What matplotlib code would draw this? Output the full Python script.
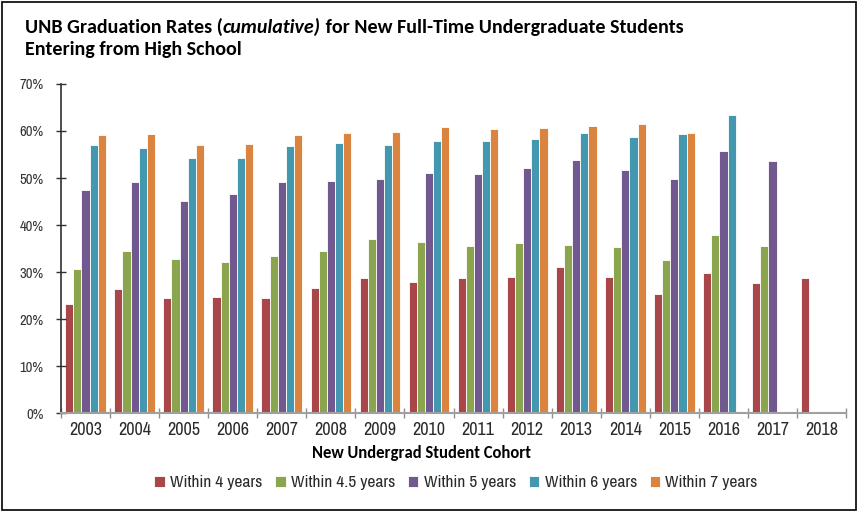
import numpy as np
import matplotlib.pyplot as plt
from matplotlib.patches import Rectangle
from matplotlib.ticker import PercentFormatter, FixedLocator

# -----------------------------
# Data (percent)
# -----------------------------
cohorts = ["2003", "2004", "2005", "2006", "2007", "2008", "2009", "2010",
           "2011", "2012", "2013", "2014", "2015", "2016", "2017", "2018"]

within_4 = [23.3, 26.5, 24.4, 24.7, 24.5, 26.7, 28.7, 27.9,
            28.7, 28.9, 31.0, 28.9, 25.3, 29.8, 27.7, 28.7]
within_45 = [30.6, 34.4, 32.8, 32.1, 33.4, 34.5, 37.0, 36.3,
             35.5, 36.2, 35.8, 35.3, 32.6, 37.9, 35.6, np.nan]
within_5 = [47.4, 49.2, 45.1, 46.6, 49.1, 49.4, 49.8, 51.1,
            50.8, 52.2, 53.8, 51.7, 49.9, 55.7, 53.6, np.nan]
within_6 = [57.0, 56.3, 54.3, 54.3, 56.8, 57.5, 57.1, 57.9,
            57.9, 58.2, 59.5, 58.7, 59.3, 63.5, np.nan, np.nan]
within_7 = [59.1, 59.4, 57.0, 57.2, 59.1, 59.6, 59.8, 60.8,
            60.4, 60.6, 61.1, 61.4, 59.6, np.nan, np.nan, np.nan]

series = [
    ("Within 4 years", within_4, "#A9464A"),
    ("Within 4.5 years", within_45, "#8BA54F"),
    ("Within 5 years", within_5, "#71598F"),
    ("Within 6 years", within_6, "#4398B0"),
    ("Within 7 years", within_7, "#DA843F"),
]

NARROW = ["Archivo Narrow", "DejaVu Sans"]
CAL = ["Carlito", "DejaVu Sans"]

# -----------------------------
# Plot
# -----------------------------
fig = plt.figure(figsize=(8.59, 5.12), dpi=100)
ax = fig.add_axes([0.071, 0.193, 0.914, 0.643])

x = np.arange(len(cohorts))
w = 0.166
for i, (name, vals, col) in enumerate(series):
    ax.bar(x + (i - 2) * w, vals, width=w, color=col, edgecolor="white",
           linewidth=0.6, label=name)

ax.set_xlim(-0.5, len(cohorts) - 0.5)
ax.set_ylim(0, 70)
ax.yaxis.set_major_locator(FixedLocator(np.arange(0, 71, 10)))
ax.yaxis.set_major_formatter(PercentFormatter(decimals=0))

ax.set_xticks(x)
ax.set_xticklabels(cohorts)
ax.set_xticks(np.arange(-0.5, len(cohorts)), minor=True)
ax.tick_params(axis="x", which="major", length=0, pad=6, labelsize=13, labelcolor="#2a2a2a")
ax.tick_params(axis="x", which="minor", length=7, direction="inout", color="#909090", width=1)
ax.tick_params(axis="y", length=7, direction="inout", color="#303030", width=1,
               labelsize=10.5, pad=9, labelcolor="#333333")
for lab in ax.get_xticklabels() + ax.get_yticklabels():
    lab.set_family(NARROW)

for s in ["top", "right"]:
    ax.spines[s].set_visible(False)
ax.spines["left"].set_color("#303030")
ax.spines["left"].set_linewidth(1.2)
ax.spines["bottom"].set_color("#A0A0A0")
ax.spines["bottom"].set_linewidth(1.5)

fig.text(422 / 859, 1 - 453 / 512, "New Undergrad Student Cohort", fontsize=12,
         fontweight="bold", family=CAL, ha="center", va="center")

ax.legend(loc="center", bbox_to_anchor=(456 / 859, 1 - 483 / 512), bbox_transform=fig.transFigure,
          ncol=5, frameon=False, handlelength=0.6, handleheight=0.6, handletextpad=0.3,
          columnspacing=0.75, labelcolor="#2a2a2a", prop={"family": NARROW, "size": 12.5})

# title, built from pieces so only "cumulative)" is italic
renderer = fig.canvas.get_renderer()
xpos = 25 / 859
for txt, style in [("UNB Graduation Rates (", "normal"), ("cumulative)", "italic"),
                   (" for New Full-Time Undergraduate Students", "normal")]:
    t = fig.text(xpos, 1 - 27 / 512, txt, fontsize=14.4, fontweight="bold", style=style,
                 family=CAL, va="center")
    xpos += t.get_window_extent(renderer=renderer).width / fig.bbox.width
fig.text(25 / 859, 1 - 50 / 512, "Entering from High School", fontsize=14.4, fontweight="bold",
         family=CAL, va="center")

fig.patches.append(Rectangle((0.002, 0.003), 0.995, 0.993, transform=fig.transFigure,
                             fill=False, edgecolor="black", linewidth=1.2))

plt.savefig("out.png", dpi=100)
